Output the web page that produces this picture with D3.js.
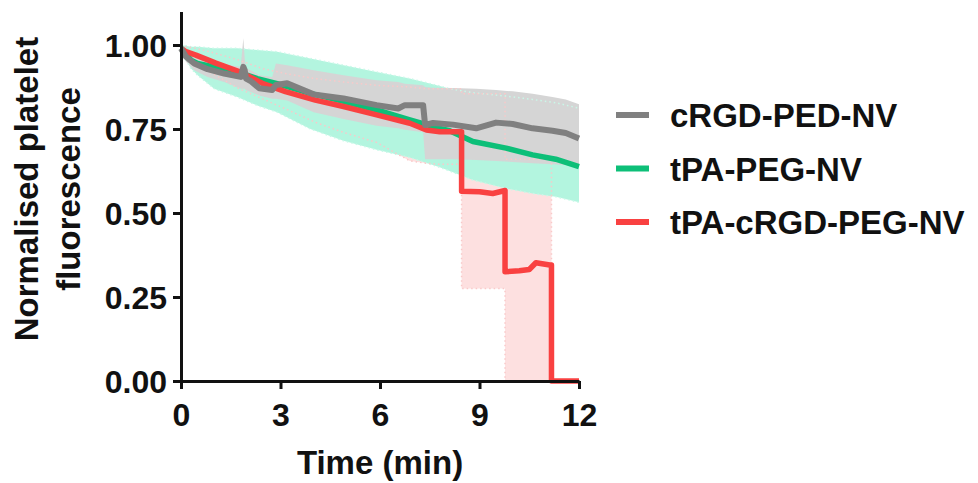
<!DOCTYPE html>
<html>
<head>
<meta charset="utf-8">
<script src="https://cdn.jsdelivr.net/npm/d3@7"></script>
<style>
  body { margin: 0; background: #fff; }
  text { font-family: "Liberation Sans", Arial, sans-serif; font-weight: bold; fill: #111; }
</style>
</head>
<body>
<div id="vis"></div>
<script>
// Datos (tiempo en minutos, fluorescencia normalizada)
const SERIES = ["cRGD-PED-NV", "tPA-PEG-NV", "tPA-cRGD-PEG-NV"];
const X_TICKS = [0, 3, 6, 9, 12];
const Y_TICKS = [0, 0.25, 0.5, 0.75, 1.0];

// cRGD-PED-NV (gris)
const GRAY_T = [0, 0.15, 0.4, 0.8, 1.3, 1.8, 1.88, 1.92, 1.96, 2.1, 2.36, 2.75, 2.86, 3.2, 4.0, 4.9, 5.9, 6.55, 6.75, 7.3, 7.36, 7.6, 8.2, 8.9, 9.5, 10.0, 10.6, 11.2, 11.6, 12];
const GRAY_MEAN = [0.99, 0.965, 0.945, 0.928, 0.915, 0.905, 0.935, 0.925, 0.9, 0.893, 0.871, 0.866, 0.881, 0.886, 0.853, 0.841, 0.821, 0.811, 0.821, 0.821, 0.762, 0.768, 0.763, 0.752, 0.769, 0.765, 0.752, 0.745, 0.738, 0.722];
const GRAY_HI = [1.0, 0.99, 0.965, 0.95, 0.942, 0.935, 1.02, 0.96, 0.93, 0.925, 0.91, 0.905, 0.945, 0.94, 0.925, 0.91, 0.895, 0.89, 0.885, 0.88, 0.875, 0.873, 0.872, 0.87, 0.866, 0.862, 0.855, 0.845, 0.838, 0.824];
const GRAY_LO = [0.98, 0.95, 0.925, 0.905, 0.89, 0.87, 0.87, 0.87, 0.865, 0.86, 0.85, 0.84, 0.84, 0.835, 0.80, 0.78, 0.76, 0.752, 0.748, 0.74, 0.66, 0.66, 0.66, 0.658, 0.655, 0.652, 0.648, 0.645, 0.643, 0.638];

// tPA-PEG-NV (verde)
const GREEN_T = [0, 0.3, 0.5, 1.0, 1.7, 2.3, 2.9, 3.9, 4.9, 5.9, 6.9, 7.8, 8.1, 8.8, 9.8, 10.6, 11.3, 12];
const GREEN_MEAN = [0.99, 0.955, 0.945, 0.935, 0.92, 0.90, 0.885, 0.856, 0.832, 0.807, 0.777, 0.752, 0.745, 0.713, 0.693, 0.673, 0.66, 0.638];
const GREEN_HI = [1.0, 0.995, 0.995, 0.99, 0.99, 0.985, 0.98, 0.96, 0.94, 0.92, 0.90, 0.878, 0.87, 0.858, 0.848, 0.838, 0.828, 0.812];
const GREEN_LO = [0.98, 0.93, 0.91, 0.87, 0.845, 0.82, 0.80, 0.75, 0.715, 0.688, 0.665, 0.636, 0.625, 0.598, 0.573, 0.558, 0.548, 0.532];

// tPA-cRGD-PEG-NV (rojo)
const RED_T = [0, 0.15, 0.45, 1.05, 1.75, 2.45, 3.15, 4.05, 4.9, 5.9, 6.9, 7.4, 7.8, 8.46, 8.46, 9.0, 9.4, 9.77, 9.77, 10.2, 10.5, 10.7, 11.12, 11.17, 11.17, 12];
const RED_MEAN = [0.99, 0.98, 0.97, 0.946, 0.921, 0.886, 0.861, 0.836, 0.817, 0.792, 0.767, 0.747, 0.742, 0.742, 0.565, 0.563, 0.558, 0.567, 0.325, 0.328, 0.332, 0.352, 0.345, 0.345, 0, 0];
const RED_HI = [1.0, 0.995, 0.99, 0.975, 0.955, 0.93, 0.915, 0.90, 0.89, 0.88, 0.875, 0.87, 0.87, 0.87, 0.855, 0.855, 0.855, 0.855, 0.66, 0.66, 0.66, 0.66, 0.66, 0.66, 0, 0];
const RED_LO = [0.98, 0.965, 0.94, 0.91, 0.87, 0.84, 0.81, 0.77, 0.74, 0.71, 0.655, 0.648, 0.645, 0.645, 0.275, 0.275, 0.275, 0.275, 0, 0, 0, 0, 0, 0, 0, 0];

const COLORS = ["#808080", "#0dbf78", "#f94141"];
const BAND_COLORS = ["#d5d5d5", "#b3f5df", "#fde0e0"];
const EDGE_COLORS = ["#e6e6e6", "#c9f8e8", "#f9c9c9"];

const WIDTH = 978;
const HEIGHT = 483;

const SVG = d3.select("#vis").append("svg")
  .attr("width", WIDTH).attr("height", HEIGHT);

// Escalas
const x = d3.scaleLinear().domain([0, 12]).range([181, 579]);
const y = d3.scaleLinear().domain([0, 1.1]).range([381, 11.4]);

const toRows = (t, m, hi, lo) => t.map((d, i) => ({ t: d, m: m[i], hi: hi[i], lo: lo[i] }));
const data = [
  toRows(GRAY_T, GRAY_MEAN, GRAY_HI, GRAY_LO),
  toRows(GREEN_T, GREEN_MEAN, GREEN_HI, GREEN_LO),
  toRows(RED_T, RED_MEAN, RED_HI, RED_LO)
];

const area = d3.area().x(d => x(d.t)).y0(d => y(d.lo)).y1(d => y(d.hi));
const line = d3.line().x(d => x(d.t)).y(d => y(d.m));
const upper = d3.line().x(d => x(d.t)).y(d => y(d.hi));
const lower = d3.line().x(d => x(d.t)).y(d => y(d.lo));

// Bandas: rojo abajo, luego verde, luego gris
const bandOrder = [2, 1, 0];
SVG.append("g").selectAll("path").data(bandOrder).join("path")
  .attr("d", i => area(data[i]))
  .attr("fill", i => BAND_COLORS[i]);

// bordes punteados de las bandas
SVG.append("g").selectAll("path").data([1, 2]).join("path")
  .attr("d", i => upper(data[i]) + lower(data[i]))
  .attr("fill", "none")
  .attr("stroke", i => EDGE_COLORS[i])
  .attr("stroke-width", 1.5)
  .attr("stroke-dasharray", "1.5,3");

// Lineas: verde, rojo, gris encima
const lineOrder = [1, 2, 0];
SVG.append("g").selectAll("path").data(lineOrder).join("path")
  .attr("d", i => line(data[i]))
  .attr("fill", "none")
  .attr("stroke", i => COLORS[i])
  .attr("stroke-width", i => i == 0 ? 6 : 5.5)
  .attr("stroke-linejoin", "round");

// Ejes
const xAxis = SVG.append("g").attr("transform", `translate(0, ${y(0)})`)
  .call(d3.axisBottom(x).tickValues(X_TICKS).tickSize(8).tickSizeOuter(0).tickPadding(14));
const yAxis = SVG.append("g").attr("transform", `translate(${x(0)}, 0)`)
  .call(d3.axisLeft(y).tickValues(Y_TICKS).tickFormat(d3.format(".2f")).tickSize(8).tickSizeOuter(0).tickPadding(6));

[xAxis, yAxis].forEach(a => {
  a.selectAll("path, line").attr("stroke", "#111").attr("stroke-width", 3);
  a.selectAll("text").attr("font-size", 32).attr("fill", "#111")
    .attr("font-family", "Liberation Sans, Arial, sans-serif").attr("font-weight", "bold");
});
yAxis.selectAll("text").attr("dy", "0.36em");

// Titulos de ejes
SVG.append("text").attr("x", 380).attr("y", 474)
  .attr("text-anchor", "middle").attr("font-size", 33).text("Time (min)");

const yTitle = ["Normalised platelet", "fluorescence"];
SVG.append("g").selectAll("text").data(yTitle).join("text")
  .attr("transform", (d, i) => `translate(${38 + i * 42}, 189) rotate(-90)`)
  .attr("text-anchor", "middle").attr("font-size", 33)
  .text(d => d);

// Leyenda
const legend = SVG.append("g").selectAll("g").data(SERIES).join("g")
  .attr("transform", (d, i) => `translate(0, ${115 + i * 53.5})`);
legend.append("line")
  .attr("x1", 616).attr("x2", 649).attr("y1", 0).attr("y2", 0)
  .attr("stroke", (d, i) => COLORS[i]).attr("stroke-width", 6);
legend.append("text")
  .attr("x", 670).attr("y", 12)
  .attr("font-size", 33)
  .text(d => d);
</script>
</body>
</html>
